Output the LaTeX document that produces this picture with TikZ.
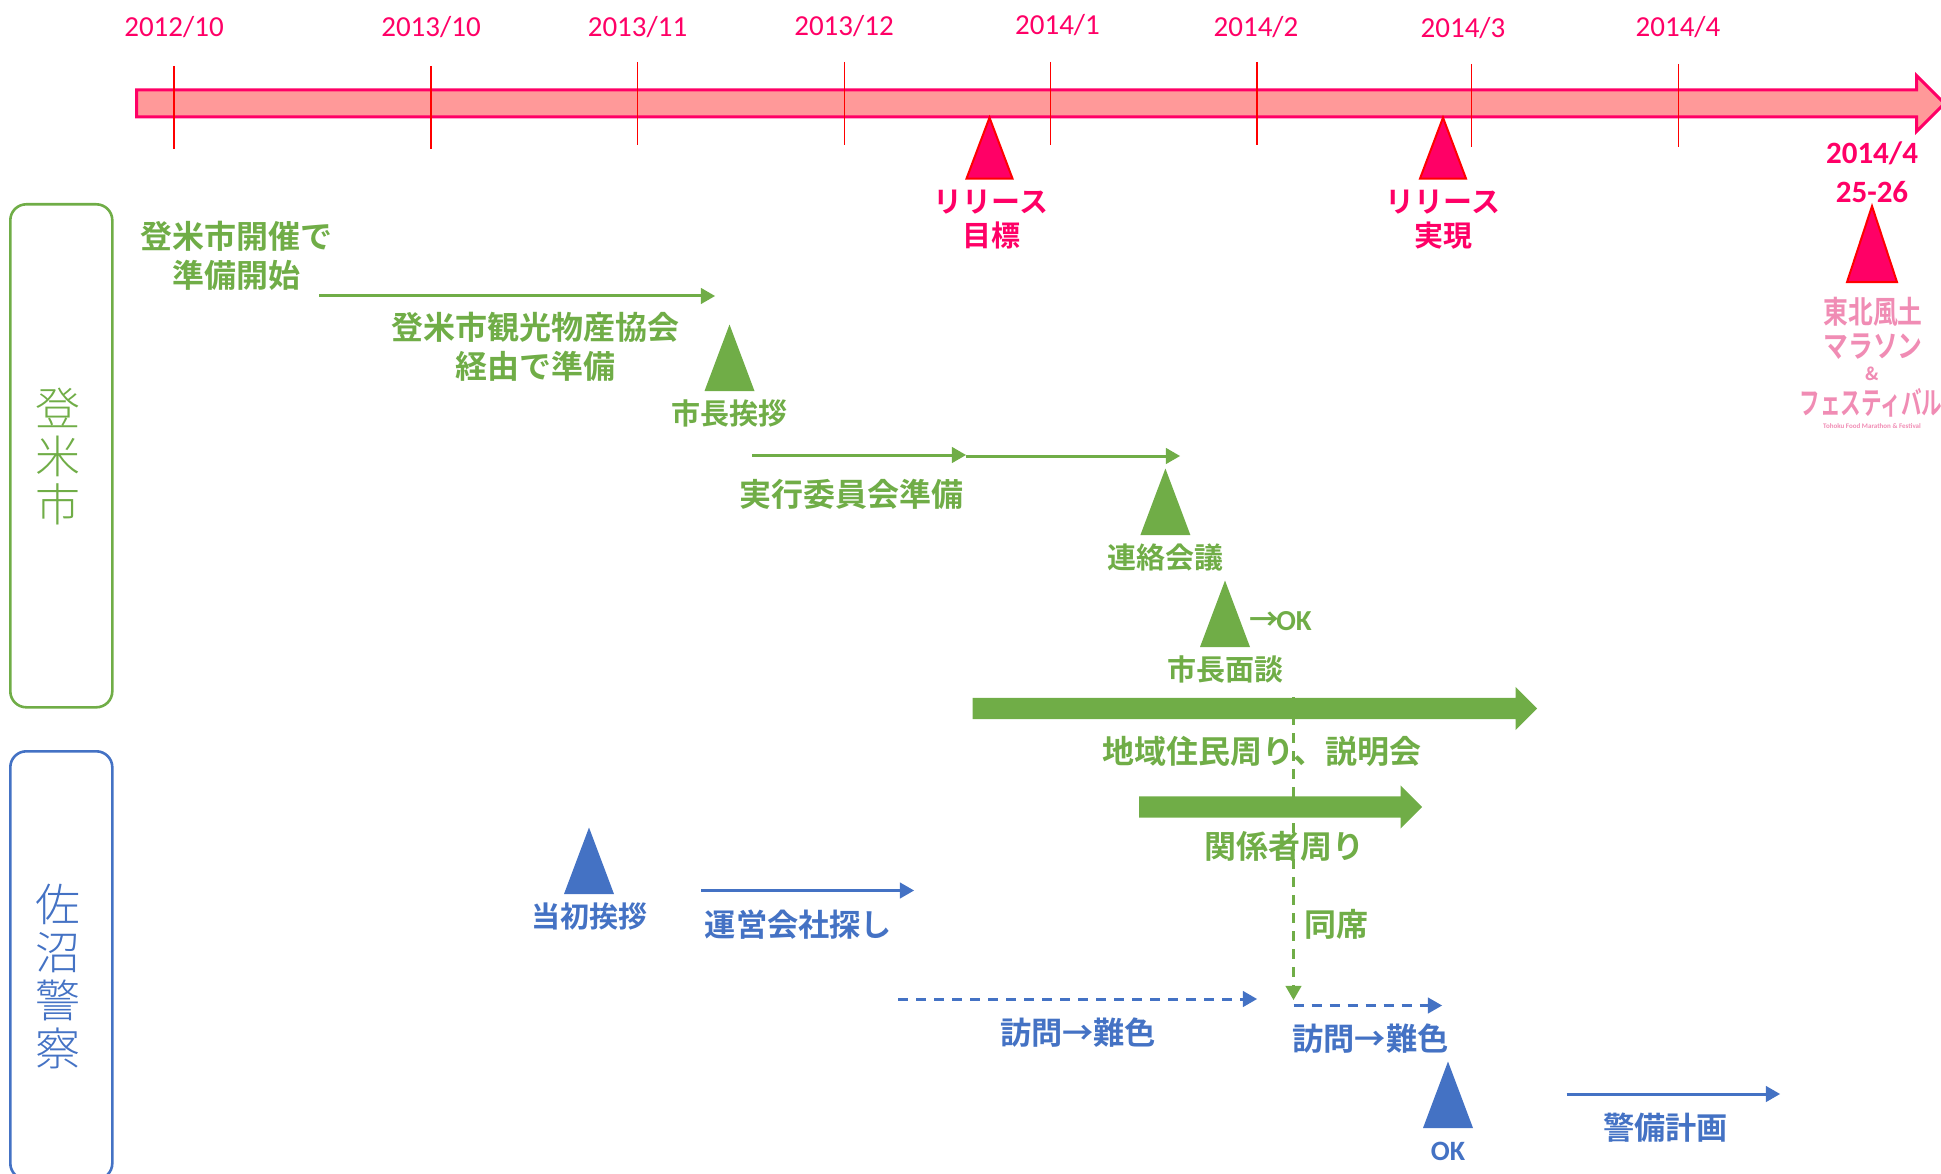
\documentclass[tikz,border=0pt]{standalone}
\usepackage{fontspec}
\setmainfont{Carlito}
\newfontfamily\jpbold{Noto Sans CJK JP Bold}
\newfontfamily\jplight{Noto Sans CJK JP Light}
\usepackage{tikz}
\usetikzlibrary{arrows}
\usetikzlibrary{shapes}
\usetikzlibrary{positioning}
\definecolor{pinkline}{HTML}{FF0066}
\definecolor{pinkfill}{HTML}{FF9999}
\definecolor{greenline}{HTML}{70AD47}
\definecolor{blueline}{HTML}{4472C4}
\definecolor{logopink}{HTML}{F08CB4}
\tikzstyle{date}=[text=pinkline,inner sep=0pt,font=\fontsize{29}{35}\selectfont]
\tikzstyle{tick}=[red,line width=1.3pt]
\tikzstyle{marker}=[isosceles triangle,isosceles triangle stretches,shape border rotate=90,anchor=apex,inner sep=0pt,minimum width=50pt,minimum height=66.5pt]
\tikzstyle{greenmark}=[marker,fill=greenline,label={[greensmall,label distance=8pt]below:#1}]
\tikzstyle{bluemark}=[marker,fill=blueline,label={[bluesmall,label distance=8pt]below:#1}]
\tikzstyle{redmark}=[marker,fill=pinkline,draw=red,line width=2pt,minimum width=46pt,minimum height=61pt]
\tikzstyle{greentext}=[text=greenline,inner sep=0pt,align=center,font=\jpbold\fontsize{32}{39}\selectfont]
\tikzstyle{bluetext}=[text=blueline,inner sep=0pt,align=center,font=\jpbold\fontsize{31.2}{39}\selectfont]
\tikzstyle{redtext}=[text=pinkline,inner sep=0pt,align=center,font=\jpbold\fontsize{29}{34}\selectfont]
\tikzstyle{greensmall}=[text=greenline,inner sep=0pt,font=\jpbold\fontsize{29}{34}\selectfont]
\tikzstyle{bluesmall}=[text=blueline,inner sep=0pt,font=\jpbold\fontsize{29}{34}\selectfont]
\tikzstyle{side}=[inner sep=0pt,align=center,font=\jplight\fontsize{45}{48}\selectfont]
\tikzstyle{sidebox}=[rectangle,rounded corners=16pt,line width=2.6pt,minimum width=102pt,anchor=north west]
\tikzstyle{bigarrow}=[single arrow,fill=greenline,anchor=tail,inner xsep=0pt,inner ysep=10.5pt,single arrow head extend=11pt]
\tikzstyle{logotext}=[text=logopink,inner sep=0pt,xscale=.8,transform shape,font=\jpbold\fontsize{31}{31}\selectfont]
\tikzstyle{arrow}=[->,>=triangle 60,line width=3pt]
\begin{document}
\begin{tikzpicture}[x=1pt,y=-1pt]
    \useasboundingbox (0,0) rectangle (1941,1174);
    \node[single arrow,draw=pinkline,fill=pinkfill,line width=3pt,anchor=tail,inner xsep=0pt,inner ysep=12pt,minimum height=1808pt,minimum width=53pt,single arrow head extend=14.5pt] at (135,103.5) (timeline) {};
    \node[date] at (174,27) (d1) {2012/10};
    \node[date] at (431,27) (d2) {2013/10};
    \node[date] at (637.5,27) (d3) {2013/11};
    \node[date] at (844,26) (d4) {2013/12};
    \node[date] at (1057.5,25) (d5) {2014/1};
    \node[date] at (1256,27) (d6) {2014/2};
    \node[date] at (1463,28) (d7) {2014/3};
    \node[date] at (1678,27) (d8) {2014/4};
    \coordinate (t1a) at (174,66);
    \coordinate (t1b) at (174,149);
    \coordinate (t2a) at (431,66);
    \coordinate (t2b) at (431,149);
    \coordinate (t3a) at (637.7,62);
    \coordinate (t3b) at (637.7,145);
    \coordinate (t4a) at (844.3,62);
    \coordinate (t4b) at (844.3,145);
    \coordinate (t5a) at (1050.3,62);
    \coordinate (t5b) at (1050.3,145);
    \coordinate (t6a) at (1257,62);
    \coordinate (t6b) at (1257,145);
    \coordinate (t7a) at (1471.7,64);
    \coordinate (t7b) at (1471.7,147);
    \coordinate (t8a) at (1678.3,64);
    \coordinate (t8b) at (1678.3,147);
    \draw[tick] (t1a) -- (t1b);
    \draw[tick] (t2a) -- (t2b);
    \draw[tick] (t3a) -- (t3b);
    \draw[tick] (t4a) -- (t4b);
    \draw[tick] (t5a) -- (t5b);
    \draw[tick] (t6a) -- (t6b);
    \draw[tick] (t7a) -- (t7b);
    \draw[tick] (t8a) -- (t8b);
    \node[redmark] at (989.5,115) (release1) {};
    \node[redmark] at (1443,115) (release2) {};
    \node[redtext] at (991,219.5) (release1text) {リリース\\目標};
    \node[redtext] at (1443,219.5) (release2text) {リリース\\実現};
    \node[date,font=\bfseries\fontsize{31}{39}\selectfont,align=center] at (1872,172) (racedate) {2014/4\\25-26};
    \node[redmark,minimum width=50pt,minimum height=76pt] at (1872,203.5) (race) {};
    \node[logotext] at (1873,312) (logo1) {東北風土};
    \node[logotext] at (1873,347) (logo2) {マラソン};
    \node[logotext,xscale=1.25,font=\jpbold\fontsize{18}{18}\selectfont] at (1872,374) (logo3) {\&};
    \node[logotext,xscale=.83] at (1871,403) (logo4) {フェスティバル};
    \node[logotext,xscale=1.25,font=\bfseries\fontsize{7}{8}\selectfont] at (1872,426) (logo5) {Tohoku Food Marathon \& Festival};
    \node[sidebox,draw=greenline,minimum height=503pt] at (9,203) (cityside) {};
    \node[sidebox,draw=blueline,minimum height=428pt] at (9,750) (policeside) {};
    \node[side,text=greenline] at (58,457) (citytext) {登\\米\\市};
    \node[side,text=blueline] at (58,977) (policetext) {佐\\沼\\警\\察};
    \node[greentext] at (236.5,255.5) (start) {登米市開催で\\準備開始};
    \coordinate (a1s) at (319,296);
    \coordinate (a1e) at (715,296);
    \draw[arrow,greenline] (a1s) -- (a1e);
    \node[greentext] at (535,347) (kyokai) {登米市観光物産協会\\経由で準備};
    \node[greenmark=市長挨拶] at (729.5,324) (greet) {};
    \coordinate (a2s) at (752,455);
    \coordinate (a2e) at (966,455);
    \coordinate (a3s) at (966,456);
    \coordinate (a3e) at (1180,456);
    \draw[arrow,greenline] (a2s) -- (a2e);
    \draw[arrow,greenline] (a3s) -- (a3e);
    \node[greentext] at (851.5,494.5) (committee) {実行委員会準備};
    \node[greenmark=連絡会議] at (1165.4,468) (meeting) {};
    \node[greenmark=市長面談] at (1225,580) (mayor) {};
    \node[greensmall,font=\jpbold\fontsize{30}{30}\selectfont] at (1264,621) (okarrow) {→};
    \node[greensmall,font=\bfseries\fontsize{29}{30}\selectfont] at (1294,621) (oktext) {OK};
    \node[bigarrow,minimum height=564.5pt,minimum width=43pt] at (972.5,708.5) (residents) {};
    \node[greentext] at (1262,751) (residentstext) {地域住民周り、説明会};
    \node[bigarrow,minimum height=283pt,minimum width=42pt] at (1139,807) (stakeholders) {};
    \node[greentext] at (1284,846.5) (stakeholderstext) {関係者周り};
    \node[bluemark=当初挨拶] at (589,827) (firstgreet) {};
    \coordinate (b1s) at (701,890.5);
    \coordinate (b1e) at (914,890.5);
    \draw[arrow,blueline] (b1s) -- (b1e);
    \node[bluetext] at (798.5,925) (company) {運営会社探し};
    \coordinate (b2s) at (898,999);
    \coordinate (b2e) at (1257,999);
    \draw[arrow,blueline,dash pattern=on 10pt off 8pt] (b2s) -- (b2e);
    \node[bluetext] at (1078,1033) (visit1) {訪問→難色};
    \coordinate (b3s) at (1293.5,1005.5);
    \coordinate (b3e) at (1442,1005.5);
    \draw[arrow,blueline,dash pattern=on 10pt off 8pt] (b3s) -- (b3e);
    \node[bluetext] at (1370.5,1039) (visit2) {訪問→難色};
    \coordinate (g1s) at (1293.5,697);
    \coordinate (g1e) at (1293.5,1000);
    \draw[arrow,greenline,dash pattern=on 10pt off 8pt] (g1s) -- (g1e);
    \node[greentext] at (1336,924) (attend) {同席};
    \node[marker,fill=blueline] at (1448,1061) (okmark) {};
    \node[bluesmall,font=\bfseries\fontsize{28}{30}\selectfont] at (1448,1151) (oklabel) {OK};
    \coordinate (b4s) at (1566.6,1094);
    \coordinate (b4e) at (1780,1094);
    \draw[arrow,blueline] (b4s) -- (b4e);
    \node[bluetext] at (1665.5,1128) (security) {警備計画};
\end{tikzpicture}
\end{document}
